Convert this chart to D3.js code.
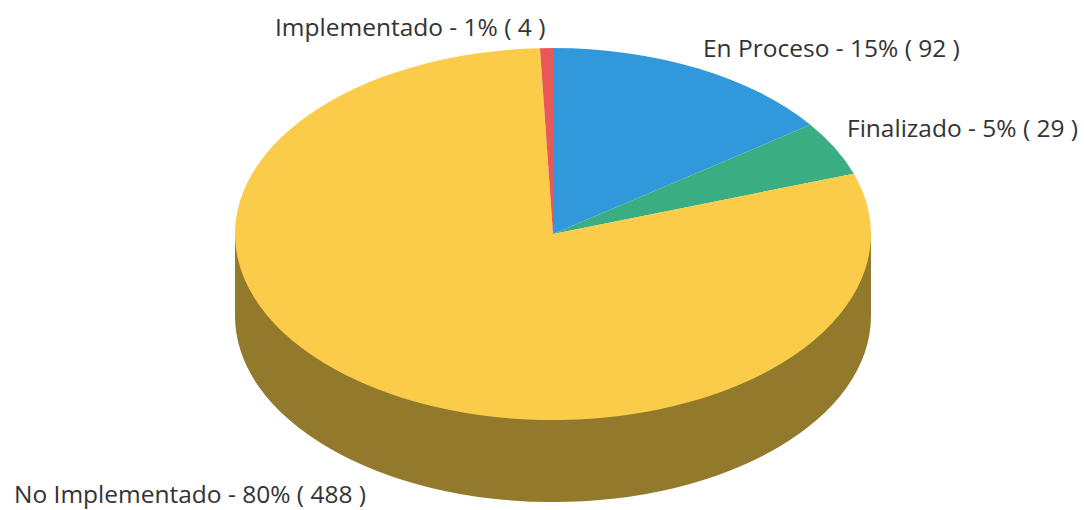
<!DOCTYPE html>
<html>
<head>
<meta charset="utf-8">
<script src="https://cdn.jsdelivr.net/npm/d3@7"></script>
<style>
  html, body { margin: 0; padding: 0; background: #fff; }
  svg { display: block; }
  text { font-family: "Open Sans", sans-serif; font-size: 24.5px; fill: #333; }
</style>
</head>
<body>
<div id="chart"></div>
<script>
const categories = ['En Proceso', 'Finalizado', 'No Implementado', 'Implementado']
const values = [92, 29, 488, 4]
const percents = [15, 5, 80, 1]
const colors = ['#3199db', '#3aae82', '#facc49', '#e85858']
const sideColor = '#93792c'

const width = 1084,
      height = 510

// ellipse of the top face, and how deep the disc is
const cx = 553,
      cy = 234,
      rx = 318,
      ry = 186,
      depth = 82

// label position per category, [x, baseline y]
const labelPos = [[703, 57], [847, 137], [14, 503], [275, 36]]

const squash = ry / rx

const pie = d3.pie().sort(null)
const arc = d3.arc().innerRadius(0).outerRadius(rx)

const svg = d3.select('#chart')
  .append('svg')
  .attr('width', width)
  .attr('height', height)

const disc = svg.append('g')
  .attr('transform', `translate(${cx}, ${cy}) scale(1, ${squash})`)

// side wall, drawn in the unsquashed space of the disc
const d = depth / squash
const wall = d3.path()
wall.moveTo(rx, 0)
wall.lineTo(rx, d)
wall.arc(0, d, rx, 0, Math.PI, false)
wall.lineTo(-rx, 0)
wall.closePath()

disc.append('path')
  .attr('class', 'wall')
  .attr('d', wall.toString())
  .attr('fill', sideColor)

disc.selectAll('.slice')
  .data(pie(values))
  .join('path')
  .attr('class', 'slice')
  .attr('d', arc)
  .attr('fill', (_, i) => colors[i])

svg.selectAll('.label')
  .data(categories)
  .join('text')
  .attr('class', 'label')
  .attr('x', (_, i) => labelPos[i][0])
  .attr('y', (_, i) => labelPos[i][1])
  .text((c, i) => `${c} - ${percents[i]}% ( ${values[i]} )`)
</script>
</body>
</html>
